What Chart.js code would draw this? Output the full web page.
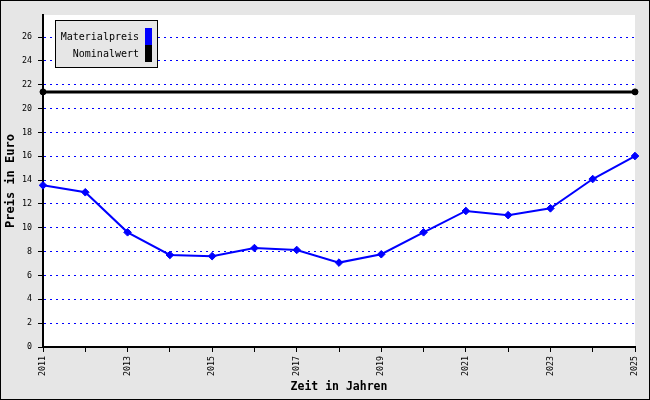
<!DOCTYPE html>
<html><head><meta charset="utf-8">
<script src="https://cdn.jsdelivr.net/npm/chart.js@4/dist/chart.umd.min.js"></script>
<style>html,body{margin:0;padding:0;background:#e6e6e6}canvas{display:block}</style>
</head><body>
<div style="width:650px;height:400px"><canvas id="c" width="650" height="400"></canvas></div>
<script>
const years = [2011,2012,2013,2014,2015,2016,2017,2018,2019,2020,2021,2022,2023,2024,2025];
const materialpreis = [13.56,12.98,9.62,7.72,7.62,8.3,8.14,7.08,7.78,9.62,11.41,11.06,11.63,14.09,16.02];
const nominalwert = [21.4,21.4];
const nominalYears = [2011,2025];
const seriesNames = ['Materialpreis','Nominalwert'];
const seriesColors = ['#0000ff','#000000'];
const yTickValues = [0,2,4,6,8,10,12,14,16,18,20,22,24,26];

const mono = "'DejaVu Sans Mono', monospace";

const bgPlugin = {
  id:'bg',
  beforeDraw(chart){
    const {ctx, chartArea:a, width, height} = chart;
    ctx.save();
    ctx.fillStyle = '#e6e6e6';
    ctx.fillRect(0,0,width,height);
    ctx.fillStyle = '#ffffff';
    ctx.fillRect(a.left,a.top,a.right-a.left,a.bottom-a.top);
    ctx.strokeStyle = '#000';
    ctx.lineWidth = 1;
    ctx.strokeRect(0.5,0.5,width-1,height-1);
    ctx.restore();
  },
  afterDraw(chart){
    const ctx = chart.ctx;
    ctx.save();
    const x0=55.5, y0=20.5, w=102, h=47;
    ctx.fillStyle='#e6e6e6';
    ctx.fillRect(x0,y0,w,h);
    ctx.strokeStyle='#000';ctx.lineWidth=1;
    ctx.strokeRect(x0,y0,w,h);
    ctx.font = '10px ' + mono;
    ctx.textAlign='right';ctx.textBaseline='middle';
    seriesNames.forEach((n,i)=>{
      const cy = 37 + i*17;
      ctx.fillStyle='#000';
      ctx.fillText(n,139,cy);
      ctx.fillStyle=seriesColors[i];
      ctx.fillRect(145,cy-9,7,17);
    });
    ctx.restore();
  }
};

new Chart(document.getElementById('c'),{
  type:'line',
  data:{
    datasets:[
      {label:seriesNames[0], data:years.map((y,i)=>({x:y,y:materialpreis[i]})),
       borderColor:seriesColors[0], backgroundColor:seriesColors[0], borderWidth:2,
       pointStyle:'rectRot', pointRadius:3.8, pointBorderWidth:1, tension:0, clip:false},
      {label:seriesNames[1], data:nominalYears.map((y,i)=>({x:y,y:nominalwert[i]})),
       borderColor:seriesColors[1], backgroundColor:seriesColors[1], borderWidth:3,
       pointStyle:'circle', pointRadius:3, pointBorderWidth:1, tension:0, clip:false}
    ]
  },
  options:{
    responsive:false, animation:false, devicePixelRatio:1,
    layout:{padding:{top:15,right:15,left:0,bottom:0}},
    plugins:{legend:{display:false},tooltip:{enabled:false}},
    scales:{
      x:{type:'linear',min:2011,max:2025,
        afterBuildTicks(s){ s.ticks = years.map(v=>({value:v})); },
        afterFit(s){ s.height = 53; },
        ticks:{autoSkip:false,minRotation:90,maxRotation:90,padding:4,color:'#000',
          font:{family:mono,size:8.3},
          callback:(v)=> (v%2===1 ? String(v) : '')},
        grid:{drawOnChartArea:false,drawTicks:true,tickLength:5,tickColor:'#000',tickWidth:1},
        border:{display:true,color:'#000',width:2},
        title:{display:true,text:'Zeit in Jahren',color:'#000',font:{family:mono,size:11.5,weight:'bold'},padding:{top:0,bottom:6}}
      },
      y:{type:'linear',min:0,max:27.85,
        afterBuildTicks(s){ s.ticks = yTickValues.map(v=>({value:v})); },
        afterFit(s){ s.width = 43; },
        ticks:{padding:6,color:'#000',font:{family:mono,size:8.3}},
        grid:{drawOnChartArea:true,drawTicks:true,tickLength:5,tickColor:'#000',tickWidth:1,
          color:(c)=> (c.tick && c.tick.value===0 ? 'rgba(0,0,0,0)' : '#0000ff'), lineWidth:1},
        border:{display:true,color:'#000',width:2,dash:[2,4]},
        title:{display:true,text:'Preis in Euro',color:'#000',font:{family:mono,size:12,weight:'bold'},padding:{top:4,bottom:0}}
      }
    }
  },
  plugins:[bgPlugin]
});
</script>
</body></html>
